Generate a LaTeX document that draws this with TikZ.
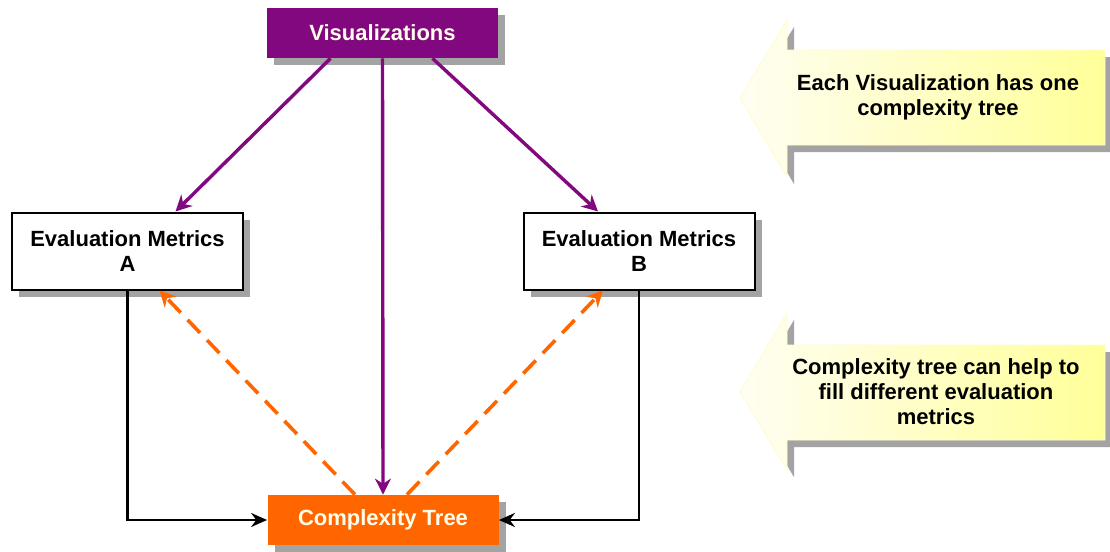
\documentclass[tikz,border=0pt]{standalone}
\usepackage{fontspec}
\setmainfont{Liberation Sans}
\usetikzlibrary{arrows.meta,shadows}
\definecolor{vispurple}{HTML}{82087F}
\definecolor{treeorange}{HTML}{FF6600}
\definecolor{notecream}{HTML}{FFFEF2}
\definecolor{noteyellow}{HTML}{FFFF99}
\begin{document}
\begin{tikzpicture}[x=0.5pt,y=-0.5pt,
  font=\bfseries\fontsize{11}{12.5}\selectfont,
  boxshadow/.style={drop shadow={shadow xshift=3.5pt,shadow yshift=-3.5pt,fill=black!45,opacity=0.8}},
  filledbox/.style={rectangle,inner sep=0pt,minimum width=115.5pt,minimum height=25pt,text=white!92!yellow,boxshadow},
  metricbox/.style={rectangle,draw=black,line width=1pt,fill=white,inner sep=0pt,align=center,
    minimum width=115.5pt,minimum height=38.5pt,boxshadow},
  note/.style={boxshadow,shading=axis,left color=notecream,right color=noteyellow,draw=yellow!20!white,line width=0.4pt},
  notetext/.style={align=center,text=black},
  feeds/.style={vispurple,line width=1.7pt,-{Stealth[length=8pt,width=8pt]}},
  helps/.style={treeorange,line width=1.8pt,dash pattern=on 9pt off 5pt,-{Stealth[length=8pt,width=8pt]}},
  fills/.style={black,line width=1.3pt,-{Stealth[length=8pt,width=7pt]}}]
\useasboundingbox (0,0) rectangle (1110,552);
% Boxes
\node[filledbox,fill=vispurple] (vis) at (382.5,33) {Visualizations};
\node[metricbox] (evalA) at (127.5,251) {Evaluation Metrics\\A};
\node[metricbox] (evalB) at (639,251) {Evaluation Metrics\\B};
\node[filledbox,fill=treeorange] (tree) at (383,520) {Complexity Tree};
% Visualizations to the others
\draw[feeds] ([xshift=-26pt]vis.south) -- ([xshift=24pt]evalA.north);
\draw[feeds] (vis.south) -- (tree.north);
\draw[feeds] ([xshift=25pt]vis.south) -- ([xshift=-20.5pt]evalB.north);
% Tree helps the metrics
\draw[helps] ([xshift=-14pt]tree.north) -- ([xshift=16pt]evalA.south);
\draw[helps] ([xshift=12pt]tree.north) -- ([xshift=-18pt]evalB.south);
% Metrics into the tree
\draw[fills] (evalA.south) |- (tree.west);
\draw[fills] (evalB.south) |- (tree.east);
% Callouts
\path[note] (1105,50) -- (787,50) -- (787,20) -- (740,98) -- (787,177) -- (787,145) -- (1105,145) -- cycle;
\node[notetext] (note1) at (938,97) {Each Visualization has one\\complexity tree};
\path[note] (1105,345) -- (787,345) -- (787,313) -- (740,392) -- (787,470) -- (787,440) -- (1105,440) -- cycle;
\node[notetext] (note2) at (936,392) {Complexity tree can help to\\fill different evaluation\\metrics};
\end{tikzpicture}
\end{document}
